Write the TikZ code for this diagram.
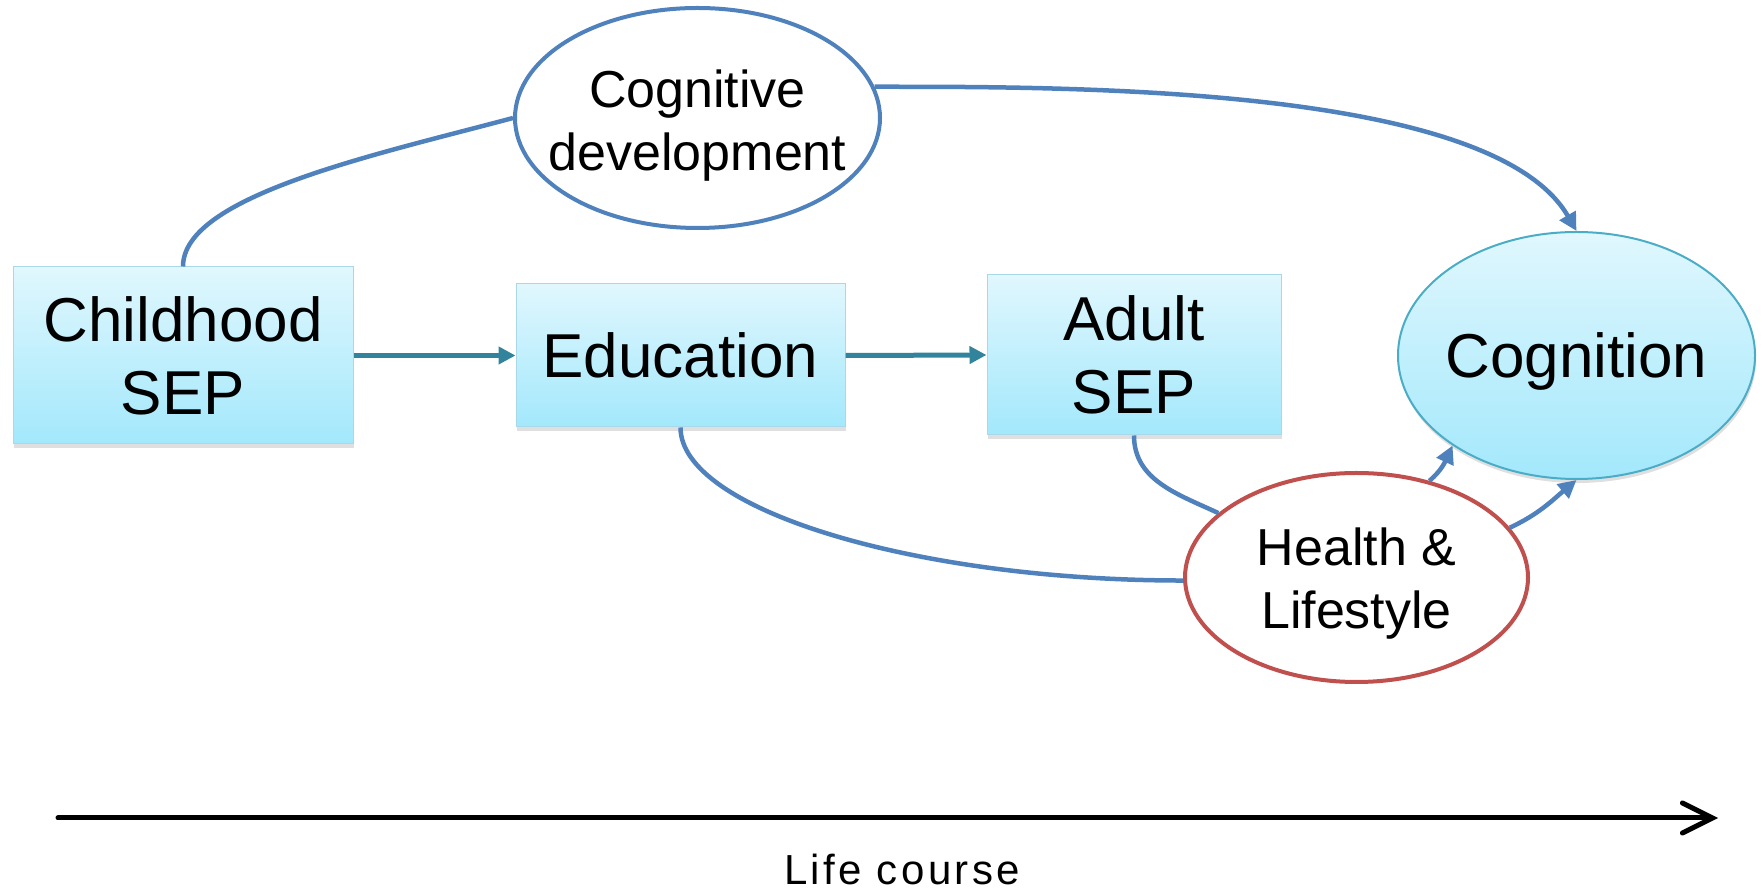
\documentclass[tikz,border=0pt]{standalone}
\usepackage{fontspec}
\setmainfont{Liberation Sans}
\usepackage{tikz}
\usetikzlibrary{arrows.meta}
\usetikzlibrary{shapes}
\usetikzlibrary{shadows}
\definecolor{linkblue}{HTML}{4F81BD}
\definecolor{linkteal}{HTML}{31849B}
\definecolor{healthred}{HTML}{C0504D}
\definecolor{boxtop}{HTML}{E0F7FD}
\definecolor{boxbot}{HTML}{A3E8FC}
\definecolor{boxedge}{HTML}{A9D8E8}
\definecolor{cogedge}{HTML}{4BACC6}
\newcommand{\bigfont}{\fontsize{62}{73}\selectfont}
\newcommand{\smallfont}{\fontsize{52}{63}\selectfont}
\tikzset{
  stagebox/.style={rectangle, draw=boxedge, line width=1pt, top color=boxtop, bottom color=boxbot,
    inner sep=0pt, align=center, font=\bigfont,
    drop shadow={shadow xshift=1pt, shadow yshift=-4pt, opacity=0.25}},
  outcome/.style={ellipse, draw=cogedge, line width=2pt, top color=boxtop, bottom color=boxbot,
    inner sep=0pt, drop shadow={shadow xshift=1pt, shadow yshift=-4pt, opacity=0.25}},
  pathway/.style={ellipse, fill=white, line width=4pt, inner sep=0pt},
  inlabel/.style={align=center, font=\smallfont, yshift=-6pt},
  linkline/.style={draw=linkblue, line width=4.5pt},
  linkarrow/.style={linkline, -{Triangle[length=18pt,width=18pt]}},
  steparrow/.style={draw=linkteal, line width=5pt, -{Triangle[length=17pt,width=17pt]}},
}
\newcommand{\stagenode}[5]{\node[stagebox, minimum width=#3pt, minimum height=#4pt] (#1) at (#2) {#5};}

\begin{document}
\begin{tikzpicture}[x=1pt,y=1pt]
\useasboundingbox (0,0) rectangle (1762,891);
% life stages
\stagenode{child}{183,535.5}{340}{177}{Childhood\\SEP}
\stagenode{edu}{680.5,535.5}{329}{143}{Education}
\stagenode{adult}{1134,536}{294}{160}{Adult\\SEP}
% outcome
\node[outcome, minimum width=357pt, minimum height=247pt,
  label={[name=cogtext, inlabel, font=\bigfont]center:Cognition}] (cog) at (1576.5,535.5) {};
% pathways
\node[pathway, draw=linkblue, minimum width=365pt, minimum height=220pt,
  label={[name=cogdevtext, inlabel, yshift=-2pt]center:{Cognitive\\development}}] (cogdev) at (697.5,773) {};
\node[pathway, draw=healthred, minimum width=343pt, minimum height=209pt,
  label={[name=healthtext, inlabel]center:{Health \&\\Lifestyle}}] (health) at (1356.5,313.5) {};
% steps along the row
\draw[steparrow] (child.east) -- (edu.west);
\draw[steparrow] (edu.east) -- (adult.west);
% upper route
\draw[linkline] (child.north) to[out=90, in=195, out looseness=0.5] (cogdev.180);
\draw[linkarrow] (cogdev.10) to[out=0, in=120, out looseness=0.7, in looseness=0.6] (cog.north);
% lower routes
\draw[linkline] (edu.south) to[out=-90, in=180, out looseness=0.4, in looseness=1.3] (health.181);
\draw[linkline] (adult.south) to[out=-90, in=155] (health.155);
\draw[linkarrow] (health.53) to[out=40, in=245] (cog.216);
\draw[linkarrow] (health.18) to[out=25, in=220] (cog.south);
% time axis
\coordinate (lifestart) at (58,73);
\coordinate (lifeend) at (1718,73);
\draw[line width=5pt, line cap=round, -{Straight Barb[length=30pt,width=30pt,line cap=round]}] (lifestart) -- (lifeend);
\node[anchor=base, font=\fontsize{42}{48}\selectfont\addfontfeature{LetterSpace=8}] (lifelabel) at (902,6) {Life course};
\end{tikzpicture}
\end{document}
